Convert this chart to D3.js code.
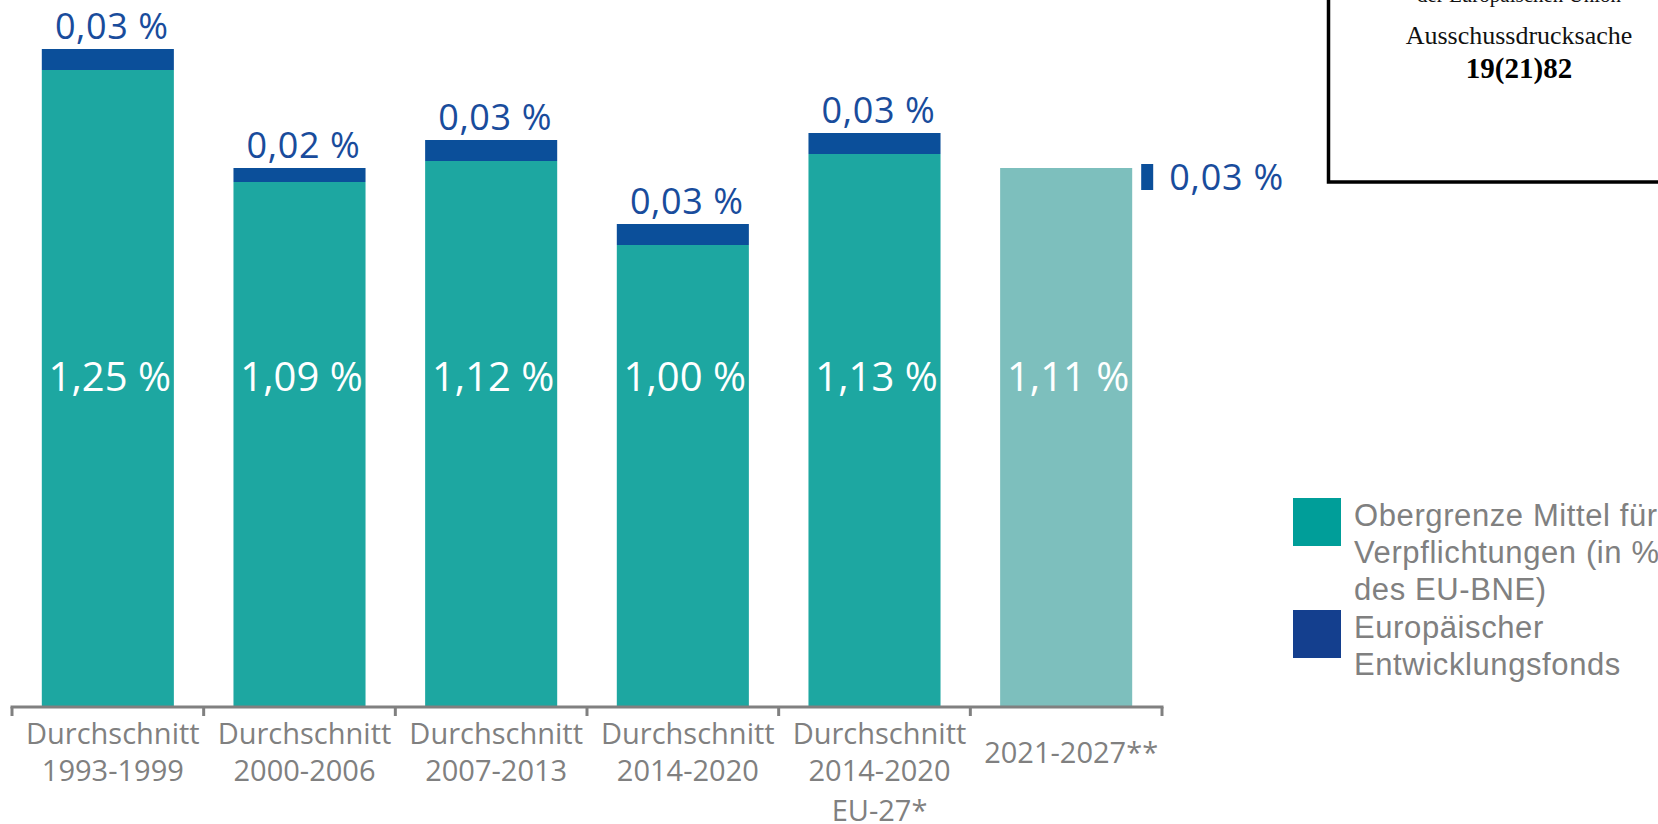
<!DOCTYPE html>
<html>
<head>
<meta charset="utf-8">
<script src="https://cdn.jsdelivr.net/npm/d3@7"></script>
<style>
  html, body { margin: 0; padding: 0; background: #ffffff; }
  svg { display: block; }
</style>
</head>
<body>
<script>
// ---- data ----
const categories = ["p1", "p2", "p3", "p4", "p5", "p6"];
const categoryLabels = [
  ["Durchschnitt", "1993-1999"],
  ["Durchschnitt", "2000-2006"],
  ["Durchschnitt", "2007-2013"],
  ["Durchschnitt", "2014-2020"],
  ["Durchschnitt", "2014-2020", "EU-27*"],
  ["2021-2027**"]
];
const commitmentCeiling = [1.25, 1.09, 1.12, 1.00, 1.13, 1.11];
const edfValues = [0.03, 0.02, 0.03, 0.03, 0.03, 0.03];
const edfStacked = [true, true, true, true, true, false];
const legendItems = [
  ["Obergrenze Mittel für", "Verpflichtungen (in %", "des EU-BNE)"],
  ["Europäischer", "Entwicklungsfonds"]
];
const boxTexts = ["der Europäischen Union", "Ausschussdrucksache", "19(21)82"];

const fmt = v => d3.format(".2f")(v).replace(".", ",") + " %";

// ---- layout ----
const W = 1658, H = 824;
const axisY = 707;
const colors = {
  teal: "#1da7a1",
  tealLight: "#7dbfbd",
  blue: "#0b4f9a",
  blueText: "#194c9c",
  axis: "#808080",
  legendTeal: "#009e99",
  legendBlue: "#143f8e"
};

const svg = d3.select("body").append("svg")
  .attr("width", W).attr("height", H);

const x = d3.scaleBand()
  .domain(categories)
  .range([12, 1162])
  .paddingInner(0.311)
  .paddingOuter(0.1555);

const y = d3.scaleLinear()
  .domain([0.34, 1.34])
  .range([axisY, axisY - 700]);

const sansFont = "'Open Sans', 'Noto Sans', sans-serif";

// teal bars
svg.append("g").selectAll("rect")
  .data(categories)
  .join("rect")
  .attr("x", d => x(d))
  .attr("width", x.bandwidth())
  .attr("y", (d, i) => y(commitmentCeiling[i]))
  .attr("height", (d, i) => y.range()[0] - y(commitmentCeiling[i]))
  .attr("fill", (d, i) => edfStacked[i] ? colors.teal : colors.tealLight);

// blue stacked segments
const stackedIdx = categories.map((c, i) => i).filter(i => edfStacked[i]);
svg.append("g").selectAll("rect")
  .data(stackedIdx)
  .join("rect")
  .attr("x", i => x(categories[i]))
  .attr("width", x.bandwidth())
  .attr("y", i => y(commitmentCeiling[i] + edfValues[i]))
  .attr("height", i => y(commitmentCeiling[i]) - y(commitmentCeiling[i] + edfValues[i]))
  .attr("fill", colors.blue);

// value labels above stacks
svg.append("g").selectAll("text")
  .data(stackedIdx)
  .join("text")
  .attr("x", i => x(categories[i]) + x.bandwidth() / 2 + 4)
  .attr("y", i => y(commitmentCeiling[i] + edfValues[i]) - 10)
  .attr("text-anchor", "middle")
  .attr("font-family", sansFont)
  .attr("font-size", 36)
  .attr("letter-spacing", 0.6)
  .attr("fill", colors.blueText)
  .text(i => fmt(edfValues[i]));

// separate EDF marker for non-stacked bar
const sepIdx = categories.map((c, i) => i).filter(i => !edfStacked[i]);
sepIdx.forEach(i => {
  const bx = x(categories[i]) + x.bandwidth();
  const by = y(commitmentCeiling[i]);
  svg.append("rect")
    .attr("x", bx + 9).attr("y", by - 4)
    .attr("width", 12).attr("height", 26)
    .attr("fill", colors.blue);
  svg.append("text")
    .attr("x", bx + 37).attr("y", by + 22)
    .attr("font-family", sansFont)
    .attr("font-size", 36)
    .attr("letter-spacing", 0.8)
    .attr("fill", colors.blueText)
    .text(fmt(edfValues[i]));
});

// in-bar labels
svg.append("g").selectAll("text")
  .data(categories)
  .join("text")
  .attr("x", d => x(d) + x.bandwidth() / 2 + 2)
  .attr("y", 391)
  .attr("text-anchor", "middle")
  .attr("font-family", sansFont)
  .attr("font-size", 40)
  .attr("fill", "#ffffff")
  .text((d, i) => fmt(commitmentCeiling[i]));

// axis line & boundary ticks
const [r0, r1] = x.range();
const gap = x.step() * x.paddingInner() / 2;
const boundaries = [r0].concat(categories.map(c => x(c) + x.bandwidth() + gap));
boundaries[boundaries.length - 1] = r1;
const axisG = svg.append("g");
axisG.append("line")
  .attr("x1", r0 - 1.5).attr("x2", r1 + 1.5)
  .attr("y1", axisY).attr("y2", axisY)
  .attr("stroke", colors.axis).attr("stroke-width", 3);
axisG.selectAll("line.tick")
  .data(boundaries)
  .join("line")
  .attr("class", "tick")
  .attr("x1", d => d).attr("x2", d => d)
  .attr("y1", axisY).attr("y2", axisY + 9)
  .attr("stroke", colors.axis).attr("stroke-width", 3);

// category labels
const lineBaselines = [744, 781, 821];
categories.forEach((c, i) => {
  const lines = categoryLabels[i];
  const cx = x(c) + x.bandwidth() / 2 + 5;
  const t = svg.append("text")
    .attr("text-anchor", "middle")
    .attr("font-family", sansFont)
    .attr("font-size", 29)
    .attr("fill", colors.axis);
  if (lines.length === 1) {
    t.append("tspan").attr("x", cx).attr("y", (lineBaselines[0] + lineBaselines[1]) / 2).text(lines[0]);
  } else {
    lines.forEach((ln, k) => {
      t.append("tspan").attr("x", cx).attr("y", lineBaselines[k]).text(ln);
    });
  }
});

// legend
const legendColors = [colors.legendTeal, colors.legendBlue];
const legendTop = [498, 610];
legendItems.forEach((lines, k) => {
  svg.append("rect")
    .attr("x", 1293).attr("y", legendTop[k])
    .attr("width", 48).attr("height", 48)
    .attr("fill", legendColors[k]);
  const t = svg.append("text")
    .attr("font-family", "'Liberation Sans', Arial, sans-serif")
    .attr("font-size", 31)
    .attr("letter-spacing", 0.6)
    .attr("fill", "#808080");
  lines.forEach((ln, j) => {
    t.append("tspan").attr("x", 1354).attr("y", legendTop[k] + 28 + j * 37).text(ln);
  });
});

// stamp box (top right)
svg.append("rect")
  .attr("x", 1328.5).attr("y", -20)
  .attr("width", 400).attr("height", 202)
  .attr("fill", "none")
  .attr("stroke", "#000000")
  .attr("stroke-width", 3.5);
const boxCx = 1519;
svg.append("text")
  .attr("x", boxCx).attr("y", 2)
  .attr("text-anchor", "middle")
  .attr("font-family", "'Liberation Serif', 'Times New Roman', serif")
  .attr("font-size", 21)
  .attr("fill", "#111")
  .text(boxTexts[0]);
svg.append("text")
  .attr("x", boxCx).attr("y", 44)
  .attr("text-anchor", "middle")
  .attr("font-family", "'Liberation Serif', 'Times New Roman', serif")
  .attr("font-size", 26)
  .attr("fill", "#111")
  .text(boxTexts[1]);
svg.append("text")
  .attr("x", boxCx).attr("y", 78)
  .attr("text-anchor", "middle")
  .attr("font-family", "'Liberation Serif', 'Times New Roman', serif")
  .attr("font-size", 29)
  .attr("font-weight", "bold")
  .attr("fill", "#000")
  .text(boxTexts[2]);
</script>
</body>
</html>
